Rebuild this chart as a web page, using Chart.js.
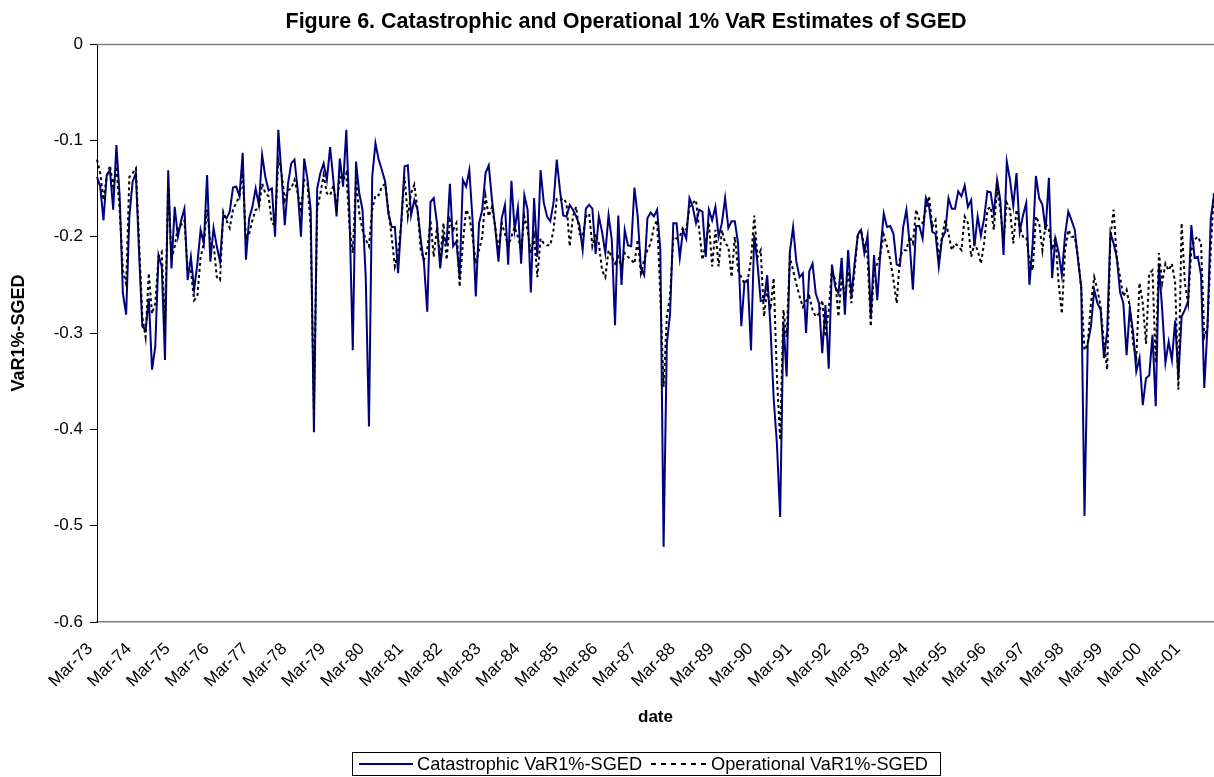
<!DOCTYPE html>
<html><head><meta charset="utf-8">
<script src="https://cdn.jsdelivr.net/npm/chart.js@4"></script>
<style>html,body{margin:0;padding:0;background:#fff;}#wrap{width:1214px;height:777px;}</style>
</head><body><div id="wrap"><canvas id="c" width="1214" height="777"></canvas></div>
<script>
const titleText = 'Figure 6. Catastrophic and Operational 1% VaR Estimates of SGED';
const xTitle = 'date';
const yTitle = 'VaR1%-SGED';
const seriesNames = ['Catastrophic VaR1%-SGED', 'Operational VaR1%-SGED'];
const monthNames = ['Jan','Feb','Mar','Apr','May','Jun','Jul','Aug','Sep','Oct','Nov','Dec'];
const startYear = 1973, startMonth = 2; // Mar-73

const catastrophic = [
-0.138,-0.148,-0.183,-0.136,-0.131,-0.172,-0.105,-0.158,-0.259,-0.281,
-0.179,-0.143,-0.134,-0.217,-0.293,-0.297,-0.264,-0.338,-0.314,-0.219,
-0.231,-0.328,-0.131,-0.233,-0.169,-0.200,-0.183,-0.171,-0.245,-0.221,
-0.255,-0.228,-0.193,-0.207,-0.136,-0.226,-0.191,-0.210,-0.226,-0.178,
-0.181,-0.174,-0.149,-0.148,-0.158,-0.113,-0.224,-0.181,-0.169,-0.150,
-0.167,-0.115,-0.138,-0.152,-0.150,-0.200,-0.089,-0.136,-0.188,-0.145,
-0.124,-0.120,-0.152,-0.200,-0.119,-0.140,-0.172,-0.403,-0.150,-0.134,
-0.124,-0.141,-0.107,-0.141,-0.179,-0.119,-0.148,-0.089,-0.179,-0.318,
-0.122,-0.155,-0.172,-0.242,-0.397,-0.138,-0.103,
-0.120,-0.131,-0.143,-0.176,-0.190,-0.190,-0.238,-0.183,-0.127,-0.126,
-0.178,-0.162,-0.172,-0.203,-0.228,-0.278,-0.164,-0.160,-0.186,-0.233,
-0.200,-0.207,-0.145,-0.210,-0.205,-0.242,-0.141,-0.148,-0.131,-0.183,
-0.262,-0.186,-0.172,-0.134,-0.126,-0.162,-0.191,-0.226,-0.181,-0.167,
-0.229,-0.142,-0.193,-0.170,-0.228,-0.157,-0.172,-0.258,-0.160,-0.221,
-0.131,-0.165,-0.179,-0.184,-0.165,-0.120,-0.152,-0.178,-0.179,-0.167,
-0.172,-0.179,-0.188,-0.214,-0.171,-0.167,-0.171,-0.218,-0.179,-0.195,
-0.217,-0.178,-0.203,-0.292,-0.178,-0.250,-0.193,-0.209,-0.210,-0.149,
-0.179,-0.233,-0.240,-0.181,-0.175,-0.179,-0.172,
-0.214,-0.522,-0.311,-0.280,-0.186,-0.186,-0.222,-0.193,-0.202,-0.160,
-0.169,-0.186,-0.172,-0.174,-0.221,-0.172,-0.183,-0.169,-0.200,-0.186,
-0.160,-0.191,-0.184,-0.184,-0.207,-0.293,-0.247,-0.245,-0.318,-0.198,
-0.228,-0.267,-0.266,-0.240,-0.293,-0.368,-0.415,-0.491,-0.288,-0.345,
-0.216,-0.190,-0.226,-0.242,-0.238,-0.300,-0.236,-0.228,-0.259,-0.269,
-0.321,-0.271,-0.337,-0.229,-0.252,-0.259,-0.222,-0.281,-0.214,-0.262,
-0.228,-0.198,-0.193,-0.217,-0.199,-0.283,-0.219,-0.266,-0.214,-0.176,
-0.190,-0.189,-0.197,-0.229,-0.230,-0.190,-0.172,-0.207,-0.255,-0.189,
-0.189,-0.202,-0.160,-0.169,-0.195,-0.197,
-0.231,-0.202,-0.195,-0.160,-0.171,-0.171,-0.153,-0.158,-0.147,-0.169,
-0.162,-0.210,-0.179,-0.199,-0.181,-0.153,-0.154,-0.176,-0.141,-0.162,
-0.219,-0.122,-0.141,-0.168,-0.134,-0.195,-0.178,-0.165,-0.250,-0.207,
-0.137,-0.160,-0.167,-0.193,-0.139,-0.243,-0.202,-0.216,-0.240,-0.198,
-0.174,-0.183,-0.193,-0.224,-0.252,-0.490,-0.311,-0.293,-0.255,-0.269,
-0.276,-0.326,-0.299,-0.196,-0.207,-0.222,-0.258,-0.269,-0.323,-0.274,
-0.299,-0.340,-0.326,-0.375,-0.347,-0.344,-0.302,-0.376,-0.229,-0.276,
-0.331,-0.309,-0.328,-0.287,-0.347,-0.283,-0.276,-0.267,-0.188,-0.222,
-0.221,-0.240,-0.357,-0.293,-0.181,-0.157
];

const operational = [
-0.120,-0.134,-0.162,-0.138,-0.126,-0.148,-0.127,-0.172,-0.235,-0.249,
-0.138,-0.134,-0.129,-0.207,-0.283,-0.304,-0.238,-0.280,-0.269,-0.221,
-0.216,-0.290,-0.145,-0.224,-0.210,-0.190,-0.188,-0.183,-0.235,-0.235,
-0.266,-0.262,-0.221,-0.207,-0.172,-0.207,-0.207,-0.242,-0.245,-0.174,
-0.183,-0.191,-0.172,-0.165,-0.158,-0.134,-0.203,-0.197,-0.183,-0.172,
-0.171,-0.145,-0.155,-0.158,-0.186,-0.188,-0.120,-0.134,-0.162,-0.152,
-0.150,-0.141,-0.155,-0.172,-0.141,-0.145,-0.190,-0.380,-0.172,-0.155,
-0.136,-0.155,-0.157,-0.147,-0.169,-0.138,-0.141,-0.134,-0.190,-0.217,
-0.141,-0.176,-0.193,-0.203,-0.210,-0.172,-0.157,
-0.157,-0.148,-0.145,-0.172,-0.200,-0.231,-0.217,-0.186,-0.138,-0.179,
-0.155,-0.146,-0.172,-0.214,-0.224,-0.214,-0.183,-0.221,-0.190,-0.224,
-0.186,-0.224,-0.183,-0.193,-0.186,-0.252,-0.207,-0.172,-0.179,-0.200,
-0.228,-0.214,-0.200,-0.158,-0.179,-0.169,-0.190,-0.214,-0.186,-0.197,
-0.210,-0.200,-0.190,-0.200,-0.214,-0.179,-0.193,-0.217,-0.200,-0.242,
-0.202,-0.207,-0.209,-0.209,-0.193,-0.161,-0.162,-0.160,-0.165,-0.210,
-0.179,-0.169,-0.197,-0.200,-0.179,-0.176,-0.210,-0.197,-0.207,-0.235,
-0.242,-0.214,-0.221,-0.228,-0.221,-0.231,-0.217,-0.221,-0.224,-0.228,
-0.203,-0.238,-0.224,-0.214,-0.207,-0.190,-0.183,
-0.262,-0.356,-0.283,-0.262,-0.200,-0.202,-0.200,-0.190,-0.193,-0.169,
-0.165,-0.162,-0.193,-0.224,-0.207,-0.186,-0.231,-0.193,-0.231,-0.193,
-0.207,-0.210,-0.242,-0.200,-0.235,-0.242,-0.249,-0.245,-0.224,-0.178,
-0.221,-0.214,-0.283,-0.255,-0.276,-0.243,-0.345,-0.411,-0.276,-0.304,
-0.221,-0.235,-0.249,-0.262,-0.273,-0.267,-0.262,-0.276,-0.283,-0.280,
-0.266,-0.304,-0.276,-0.235,-0.245,-0.283,-0.242,-0.262,-0.236,-0.269,
-0.235,-0.197,-0.193,-0.210,-0.221,-0.293,-0.235,-0.228,-0.217,-0.198,
-0.210,-0.224,-0.245,-0.269,-0.221,-0.214,-0.214,-0.200,-0.207,-0.172,
-0.183,-0.186,-0.172,-0.158,-0.190,-0.183,
-0.224,-0.200,-0.183,-0.197,-0.214,-0.207,-0.210,-0.214,-0.179,-0.186,
-0.221,-0.207,-0.214,-0.228,-0.207,-0.172,-0.169,-0.193,-0.150,-0.172,
-0.203,-0.165,-0.172,-0.207,-0.172,-0.190,-0.200,-0.200,-0.224,-0.235,
-0.179,-0.186,-0.214,-0.186,-0.193,-0.214,-0.200,-0.248,-0.280,-0.214,
-0.193,-0.200,-0.200,-0.221,-0.255,-0.318,-0.311,-0.269,-0.242,-0.255,
-0.273,-0.311,-0.338,-0.200,-0.172,-0.224,-0.242,-0.262,-0.255,-0.273,
-0.311,-0.325,-0.248,-0.269,-0.311,-0.238,-0.235,-0.331,-0.217,-0.248,
-0.228,-0.235,-0.228,-0.248,-0.359,-0.186,-0.248,-0.269,-0.214,-0.203,
-0.200,-0.207,-0.304,-0.293,-0.214,-0.152
];

const xTickLabels = ['Mar-73','Mar-74','Mar-75','Mar-76','Mar-77','Mar-78','Mar-79','Mar-80','Mar-81','Mar-82',
  'Mar-83','Mar-84','Mar-85','Mar-86','Mar-87','Mar-88','Mar-89','Mar-90','Mar-91','Mar-92','Mar-93','Mar-94',
  'Mar-95','Mar-96','Mar-97','Mar-98','Mar-99','Mar-00','Mar-01'];
const yTickValues = [0, -0.1, -0.2, -0.3, -0.4, -0.5, -0.6];
const yTickLabels = ['0', '-0.1', '-0.2', '-0.3', '-0.4', '-0.5', '-0.6'];

// month categories Mar-73 ... Dec-01
const categories = catastrophic.map((_, k) => {
  const m = startMonth + k;
  const yr = (startYear + Math.floor(m / 12)) % 100;
  return monthNames[m % 12] + '-' + String(yr).padStart(2, '0');
});

const FONT = 'Liberation Sans, Arial, Helvetica, sans-serif';

const decor = {
  id: 'decor',
  beforeDatasetsDraw(chart) {
    const {ctx, chartArea} = chart;
    ctx.save();
    ctx.strokeStyle = '#808080';
    ctx.lineWidth = 1.5;
    ctx.beginPath();
    ctx.moveTo(chartArea.left, chartArea.top + 0.5);
    ctx.lineTo(chartArea.right, chartArea.top + 0.5);
    ctx.stroke();
    ctx.restore();
  },
  afterDraw(chart) {
    const {ctx} = chart;
    ctx.save();
    // title
    ctx.fillStyle = '#000';
    ctx.font = 'bold 21.5px ' + FONT;
    ctx.textAlign = 'center';
    ctx.textBaseline = 'middle';
    ctx.fillText(titleText, 626, 22);
    // legend box
    const bx = 352, by = 752, bw = 588, bh = 23;
    ctx.strokeStyle = '#000';
    ctx.lineWidth = 1;
    ctx.strokeRect(bx + 0.5, by + 0.5, bw, bh);
    const cy = by + bh / 2 + 0.5;
    const ds = chart.data.datasets;
    ctx.font = '18.2px ' + FONT;
    ctx.textAlign = 'left';
    // item 1
    ctx.strokeStyle = ds[0].borderColor;
    ctx.lineWidth = 2;
    ctx.setLineDash([]);
    ctx.beginPath(); ctx.moveTo(359, cy); ctx.lineTo(413, cy); ctx.stroke();
    ctx.fillStyle = '#000';
    ctx.fillText(ds[0].label, 417, cy + 1);
    // item 2
    ctx.strokeStyle = ds[1].borderColor;
    ctx.setLineDash([5, 5]);
    ctx.beginPath(); ctx.moveTo(651, cy); ctx.lineTo(707, cy); ctx.stroke();
    ctx.setLineDash([]);
    ctx.fillText(ds[1].label, 711, cy + 1);
    ctx.restore();
  }
};

new Chart(document.getElementById('c'), {
  type: 'line',
  data: {
    labels: categories,
    datasets: [
      {label: seriesNames[0], data: catastrophic, borderColor: '#000080', borderWidth: 2,
       pointRadius: 0, tension: 0, fill: false, order: 2},
      {label: seriesNames[1], data: operational, borderColor: '#000000', borderWidth: 2,
       borderDash: [3, 3], pointRadius: 0, tension: 0, fill: false, order: 1}
    ]
  },
  options: {
    responsive: false,
    animation: false,
    devicePixelRatio: 1,
    layout: {padding: {top: 44, left: 0, right: 0, bottom: 40}},
    plugins: {legend: {display: false}, title: {display: false}, tooltip: {enabled: false}},
    scales: {
      x: {
        type: 'category',
        offset: false,
        grid: {display: false, drawTicks: false},
        border: {display: true, color: '#808080', width: 1.5},
        ticks: {
          autoSkip: false, maxRotation: 45, minRotation: 45, padding: 17, labelOffset: -7, color: '#000',
          font: {family: FONT, size: 17},
          callback: function (v) { const l = this.getLabelForValue(v); return xTickLabels.includes(l) ? l : null; }
        },
        title: {display: true, text: xTitle, color: '#000', font: {family: FONT, size: 17, weight: 'bold'},
                padding: {top: 0, bottom: 9}},
        afterFit(s) { s.height = 115; s.paddingRight = 0; }
      },
      y: {
        min: -0.6, max: 0,
        ticks: {
          stepSize: 0.1, color: '#000', padding: 7, font: {family: FONT, size: 17},
          callback: function (v) {
            let best = 0;
            yTickValues.forEach((t, i) => { if (Math.abs(t - v) < Math.abs(yTickValues[best] - v)) best = i; });
            return yTickLabels[best];
          }
        },
        grid: {drawOnChartArea: false, drawTicks: true, tickLength: 7, color: '#000'},
        border: {display: true, color: '#000', width: 1},
        title: {display: true, text: yTitle, color: '#000', font: {family: FONT, size: 18, weight: 'bold'},
                padding: {top: 8, bottom: 0}},
        afterFit(s) { s.width = 97; }
      }
    }
  },
  plugins: [decor]
});
</script>
</body></html>
